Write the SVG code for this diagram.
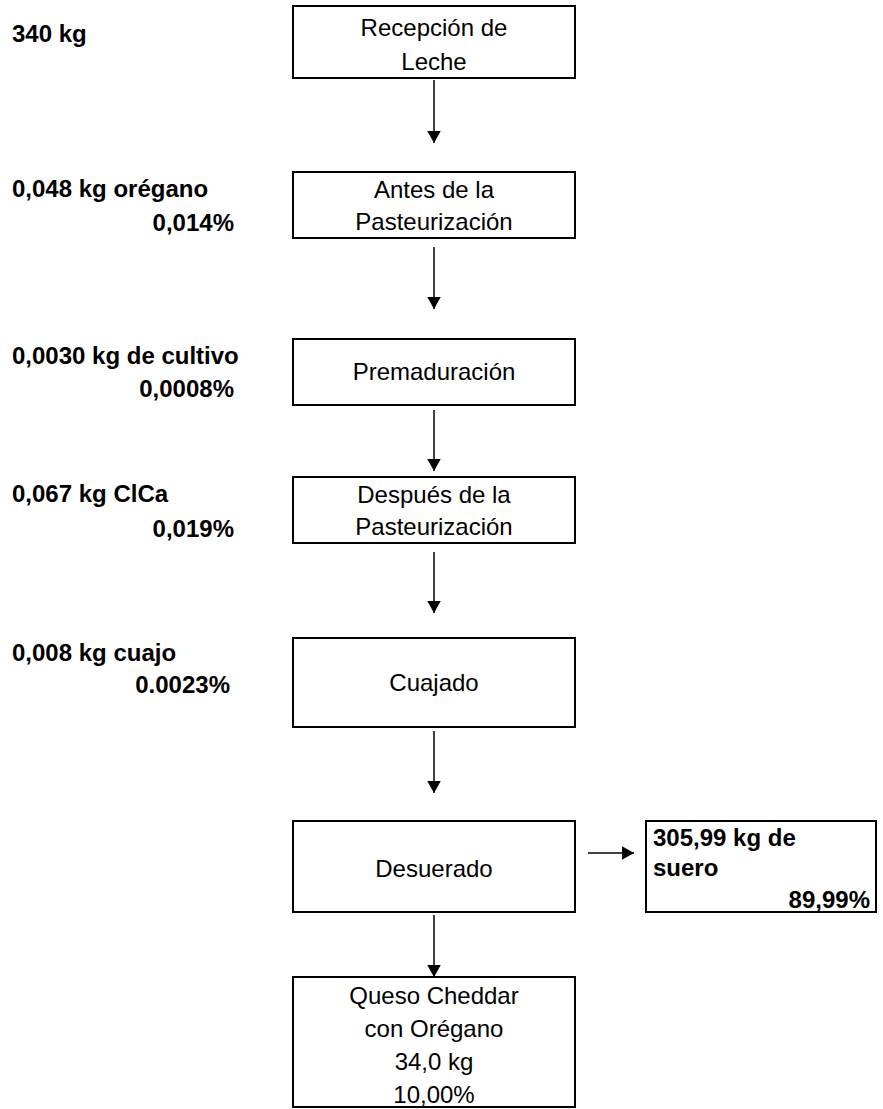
<svg xmlns="http://www.w3.org/2000/svg" width="883" height="1109" viewBox="0 0 883 1109">
<style>
.box{fill:#fff;stroke:#000;stroke-width:2}
.t{font-family:"Liberation Sans",Arial,sans-serif;font-size:24px;fill:#000;text-anchor:middle}
.b{font-family:"Liberation Sans",Arial,sans-serif;font-size:24px;font-weight:bold;fill:#000}
.r{text-anchor:end}
.c{stroke:#000;stroke-width:1.5;fill:none;marker-end:url(#ah)}
</style>
<defs>
<marker id="ah" markerWidth="8" markerHeight="9" refX="8" refY="4.5" orient="auto" markerUnits="strokeWidth">
<path d="M0,0 L8,4.5 L0,9 Z" fill="#000"/>
</marker>
</defs>
<rect width="883" height="1109" fill="#fff"/>
<g id="labels">
<text class="b" x="12" y="42">340 kg</text>
<text class="b" x="12" y="197">0,048 kg orégano</text>
<text class="b r" x="234" y="231">0,014%</text>
<text class="b" x="12" y="364">0,0030 kg de cultivo</text>
<text class="b r" x="234" y="397">0,0008%</text>
<text class="b" x="12" y="502">0,067 kg ClCa</text>
<text class="b r" x="234" y="537">0,019%</text>
<text class="b" x="12" y="661">0,008 kg cuajo</text>
<text class="b r" x="230" y="693">0.0023%</text>
</g>
<g id="n1"><rect class="box" x="293" y="6" width="282" height="72"/><text class="t" x="434" y="36">Recepción de</text><text class="t" x="434" y="70">Leche</text></g>
<g id="n2"><rect class="box" x="293" y="172" width="282" height="66"/><text class="t" x="434" y="198">Antes de la</text><text class="t" x="434" y="230">Pasteurización</text></g>
<g id="n3"><rect class="box" x="293" y="339" width="282" height="66"/><text class="t" x="434" y="380">Premaduración</text></g>
<g id="n4"><rect class="box" x="293" y="477" width="282" height="66"/><text class="t" x="434" y="503">Después de la</text><text class="t" x="434" y="535">Pasteurización</text></g>
<g id="n5"><rect class="box" x="293" y="638" width="282" height="89"/><text class="t" x="434" y="691">Cuajado</text></g>
<g id="n6"><rect class="box" x="293" y="821" width="282" height="91"/><text class="t" x="434" y="877">Desuerado</text></g>
<g id="n7"><rect class="box" x="293" y="977" width="282" height="130"/><text class="t" x="434" y="1004">Queso Cheddar</text><text class="t" x="434" y="1037">con Orégano</text><text class="t" x="434" y="1070">34,0 kg</text><text class="t" x="434" y="1103">10,00%</text></g>
<g id="n8"><rect class="box" x="646" y="821" width="230" height="91"/><text class="b" x="653" y="846">305,99 kg de</text><text class="b" x="653" y="876">suero</text><text class="b r" x="870" y="908">89,99%</text></g>
<g id="connectors">
<line class="c" x1="434" y1="80" x2="434" y2="143"/>
<line class="c" x1="434" y1="247" x2="434" y2="309"/>
<line class="c" x1="434" y1="410" x2="434" y2="471"/>
<line class="c" x1="434" y1="552" x2="434" y2="613"/>
<line class="c" x1="434" y1="731" x2="434" y2="793"/>
<line class="c" x1="434" y1="915" x2="434" y2="977"/>
<line class="c" x1="588" y1="853" x2="634" y2="853"/>
</g>
</svg>
